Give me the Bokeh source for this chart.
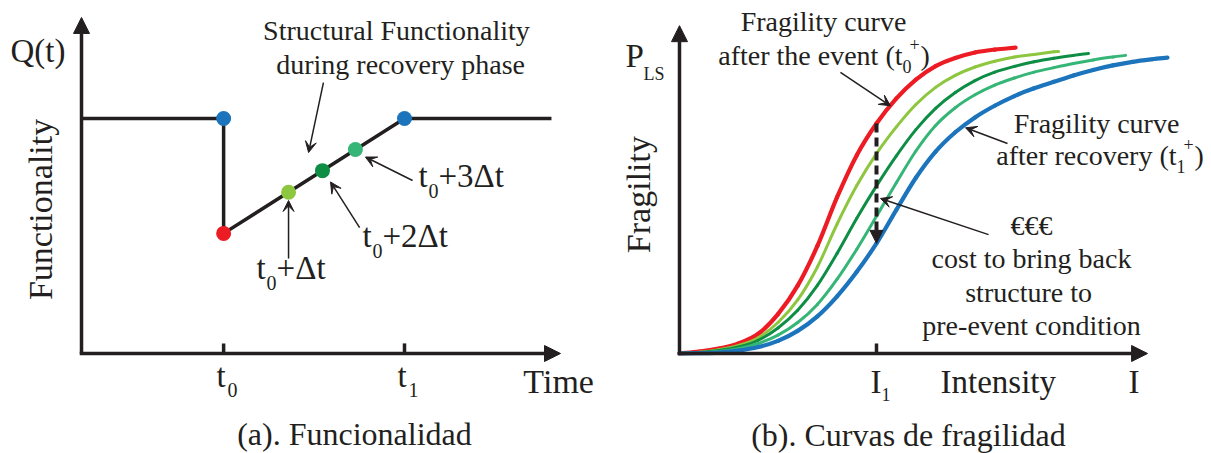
from math import pi

import numpy as np
from bokeh.core.properties import value
from bokeh.embed import file_html
from bokeh.layouts import row
from bokeh.models import Arrow, NormalHead, Range1d, VeeHead
from bokeh.plotting import figure
from bokeh.resources import INLINE

# ---------------- colours / fonts ----------------
INK = "#231F20"
RED = "#ED1C24"
LGREEN = "#8DC63F"
DGREEN = "#0E8E45"
MGREEN = "#35B677"
BLUE = "#1C75BC"
SERIF = "Liberation Serif"

# ---------------- (a) functionality vs time ----------------
t0, t1 = 4.4, 10.0
time_path = [0.0, t0, t0, t1, 14.55]
func_path = [1.0, 1.0, 0.511, 1.0, 1.0]

state_time = [t0, t0, 6.41, 7.46, 8.48, t1]
state_func = [1.0, 0.511, 0.686, 0.778, 0.868, 1.0]
state_color = [BLUE, RED, LGREEN, DGREEN, MGREEN, BLUE]

time_ticks = [t0, t1]
time_tick_subs = ["0", "1"]

# ---------------- (b) fragility curves ----------------
I1 = 1.0
int_red = [0, 0.1, 0.2, 0.3, 0.4, 0.5, 0.6, 0.7, 0.8, 0.9, 1.0, 1.1, 1.2, 1.3, 1.4,
           1.5, 1.6, 1.706]
p_red = [0, 0.006, 0.015, 0.031, 0.061, 0.122, 0.210, 0.333, 0.484, 0.614, 0.712,
         0.789, 0.848, 0.890, 0.915, 0.932, 0.941, 0.947]

int_lgreen = [0, 0.1, 0.2, 0.3, 0.4, 0.5, 0.6, 0.7, 0.8, 0.9, 1.0, 1.1, 1.2, 1.3, 1.4,
              1.5, 1.6, 1.7, 1.8, 1.9, 1.924]
p_lgreen = [0, 0.004, 0.012, 0.025, 0.049, 0.096, 0.166, 0.268, 0.401, 0.520, 0.619,
            0.701, 0.771, 0.824, 0.861, 0.887, 0.905, 0.918, 0.926, 0.934, 0.935]

int_dgreen = [0, 0.1, 0.2, 0.3, 0.4, 0.5, 0.6, 0.7, 0.8, 0.9, 1.0, 1.1, 1.2, 1.3, 1.4,
              1.5, 1.6, 1.7, 1.8, 1.9, 2.0, 2.076]
p_dgreen = [0, 0.003, 0.009, 0.020, 0.041, 0.079, 0.134, 0.211, 0.310, 0.419, 0.519,
            0.611, 0.693, 0.759, 0.808, 0.845, 0.871, 0.889, 0.903, 0.914, 0.923, 0.929]

int_mgreen = [0, 0.1, 0.2, 0.3, 0.4, 0.5, 0.6, 0.7, 0.8, 0.9, 1.0, 1.1, 1.2, 1.3, 1.4,
              1.5, 1.6, 1.7, 1.8, 1.9, 2.0, 2.1, 2.2, 2.264]
p_mgreen = [0, 0.002, 0.006, 0.015, 0.031, 0.057, 0.096, 0.152, 0.230, 0.323, 0.425,
            0.528, 0.627, 0.706, 0.761, 0.801, 0.831, 0.853, 0.871, 0.885, 0.898, 0.909,
            0.918, 0.923]

int_blue = [0, 0.1, 0.2, 0.3, 0.4, 0.5, 0.6, 0.7, 0.8, 0.9, 1.0, 1.1, 1.2, 1.3, 1.4,
            1.5, 1.6, 1.7, 1.8, 1.9, 2.0, 2.1, 2.2, 2.3, 2.4, 2.477]
p_blue = [0, 0.001, 0.003, 0.009, 0.020, 0.039, 0.070, 0.115, 0.177, 0.253, 0.341,
          0.444, 0.544, 0.625, 0.685, 0.731, 0.767, 0.797, 0.821, 0.841, 0.861, 0.878,
          0.892, 0.903, 0.911, 0.916]


def make_fig(width, xr, yr):
    p = figure(width=width, height=453, x_range=Range1d(*xr), y_range=Range1d(*yr),
               output_backend="svg", toolbar_location=None,
               x_axis_location=None, y_axis_location=None, min_border=0,
               outline_line_color=None, background_fill_color="white",
               border_fill_color="white")
    p.xgrid.visible = False
    p.ygrid.visible = False
    return p


def put(p, x, y, s, size, align="left", dx=0, dy=0, angle=0.0, baseline="alphabetic"):
    # lift baseline-anchored text so that (x, y) is where the glyphs sit
    if baseline == "alphabetic":
        dy -= round(0.35 * size)
    p.text(x=[x], y=[y], text=[s], x_offset=dx, y_offset=dy, angle=angle,
           text_font=value(SERIF), text_font_size=f"{size}px", text_color=INK,
           text_align=align, text_baseline=baseline)


def axis_arrow(p, xs, ys, xe, ye):
    p.add_layout(Arrow(x_start=xs, y_start=ys, x_end=xe, y_end=ye,
                       line_color=INK, line_width=3.5,
                       end=NormalHead(size=16, fill_color=INK, line_color=INK, line_width=1)))


def pointer(p, xs, ys, xe, ye):
    p.add_layout(Arrow(x_start=xs, y_start=ys, x_end=xe, y_end=ye,
                       line_color=INK, line_width=1.5,
                       end=VeeHead(size=11, fill_color=INK, line_color=INK, line_width=1)))


def smooth_curve(p, xs, ys, color, width):
    """Draw a curve through the points as Catmull-Rom Bezier segments."""
    x = np.asarray(xs, float)
    y = np.asarray(ys, float)
    n = len(x)
    xp = np.concatenate([[2 * x[0] - x[1]], x, [2 * x[-1] - x[-2]]])
    yp = np.concatenate([[2 * y[0] - y[1]], y, [2 * y[-1] - y[-2]]])
    cx0 = x[:-1] + (xp[2:n + 1] - xp[0:n - 1]) / 6
    cy0 = y[:-1] + (yp[2:n + 1] - yp[0:n - 1]) / 6
    cx1 = x[1:] - (xp[3:n + 2] - xp[1:n]) / 6
    cy1 = y[1:] - (yp[3:n + 2] - yp[1:n]) / 6
    p.bezier(x0=x[:-1], y0=y[:-1], x1=x[1:], y1=y[1:], cx0=cx0, cy0=cy0, cx1=cx1, cy1=cy1,
             line_color=color, line_width=width, line_cap="round")


# ======================= panel (a) =======================
pa = make_fig(605, (-2.508, 16.223), (-0.4255, 1.5021))

axis_arrow(pa, -0.055, 0, 14.83, 0)
axis_arrow(pa, 0, 0, 0, 1.43)
for tk in time_ticks:
    pa.line([tk, tk], [0, 0.043], line_color=INK, line_width=3.5)

pa.line(time_path, func_path, line_color=INK, line_width=3.5, line_join="miter")
pa.scatter(state_time, state_func, size=15, fill_color=state_color, line_color=None)

# annotation arrows toward the recovery states
pointer(pa, 7.49, 1.153, 7.03, 0.855)
pointer(pa, state_time[2], 0.404, state_time[2], state_func[2] - 0.035)
pointer(pa, 8.61, 0.536, state_time[3] + 0.25, state_func[3] - 0.048)
pointer(pa, 10.25, 0.736, state_time[4] + 0.31, state_func[4] - 0.032)

put(pa, -2.20, 1.238, "Q(t)", 33)
put(pa, -1.27, 0.613, "Functionality", 34, align="center", angle=pi / 2, baseline="middle")
put(pa, 9.75, 1.332, "Structural Functionality", 28, align="center")
put(pa, 9.88, 1.187, "during recovery phase", 28, align="center")

for tk, sub in zip(time_ticks, time_tick_subs):
    put(pa, tk, -0.145, "t", 33, dx=-7)
    put(pa, tk, -0.145, sub, 20, dx=4, dy=9)
put(pa, 13.68, -0.170, "Time", 34)

for xl, yl, rest in [(5.42, 0.311, "+\u0394t"), (8.70, 0.447, "+2\u0394t"), (10.43, 0.706, "+3\u0394t")]:
    put(pa, xl, yl, "t", 33)
    put(pa, xl, yl, "0", 20, dx=10, dy=10)
    put(pa, xl, yl, rest, 33, dx=20)

put(pa, 8.45, -0.391, "(a). Funcionalidad", 32, align="center")

# ======================= panel (b) =======================
pb = make_fig(606, (-0.3756, 2.7005), (-0.3096, 1.0929))

axis_arrow(pb, -0.009, 0, 2.376, 0)
axis_arrow(pb, 0, 0, 0, 1.015)
pb.line([I1, I1], [0, 0.031], line_color=INK, line_width=3.5)

for xs, ys, col, w in [(int_red, p_red, RED, 4.2), (int_lgreen, p_lgreen, LGREEN, 3),
                       (int_dgreen, p_dgreen, DGREEN, 3), (int_mgreen, p_mgreen, MGREEN, 3),
                       (int_blue, p_blue, BLUE, 4.2)]:
    smooth_curve(pb, xs, ys, col, w)

# loss of capacity at I1: from the post-event curve down to the recovered one
p_top = float(np.interp(I1, int_red, p_red))
p_bot = float(np.interp(I1, int_blue, p_blue))
pb.add_layout(Arrow(x_start=I1, y_start=p_top, x_end=I1, y_end=p_bot,
                    line_color=INK, line_width=4, line_dash="9 5",
                    end=NormalHead(size=13, fill_color=INK, line_color=INK, line_width=1)))

pointer(pb, 0.817, 0.870, 1.071, float(np.interp(1.071, int_red, p_red)))
pointer(pb, 1.665, 0.650, 1.452, float(np.interp(1.452, int_blue, p_blue)) - 0.01)
pointer(pb, 1.569, 0.368, 1.020, 0.480)

put(pb, -0.274, 0.885, "P", 33)
put(pb, -0.183, 0.848, "LS", 18)
put(pb, -0.208, 0.492, "Fragility", 34, align="center", angle=pi / 2, baseline="middle")

put(pb, 0.731, 0.997, "Fragility curve", 28, align="center")
put(pb, 1.132, 0.892, "after the event (t", 28, align="right")
put(pb, 1.132, 0.892, "0", 18, dx=0, dy=7)
put(pb, 1.132, 0.892, "+", 18, dx=7, dy=-15)
put(pb, 1.132, 0.892, ")", 28, dx=18)

put(pb, 2.117, 0.681, "Fragility curve", 28, align="center")
put(pb, 2.523, 0.582, "after recovery (t", 28, align="right")
put(pb, 2.523, 0.582, "1", 18, dx=0, dy=7)
put(pb, 2.523, 0.582, "+", 18, dx=7, dy=-15)
put(pb, 2.523, 0.582, ")", 28, dx=18)

put(pb, 1.787, 0.365, "\u20ac\u20ac\u20ac", 28, align="center")
put(pb, 1.787, 0.263, "cost to bring back", 28, align="center")
put(pb, 1.772, 0.158, "structure to", 28, align="center")
put(pb, 1.787, 0.056, "pre-event condition", 28, align="center")

put(pb, I1, -0.124, "I", 33, dx=-6)
put(pb, I1, -0.124, "1", 18, dx=5, dy=7)
put(pb, 1.325, -0.124, "Intensity", 33)
put(pb, 2.279, -0.124, "I", 33)

put(pb, 1.162, -0.285, "(b). Curvas de fragilidad", 32, align="center")

layout = row(pa, pb)
open("out.html", "w").write(file_html(layout, INLINE))
